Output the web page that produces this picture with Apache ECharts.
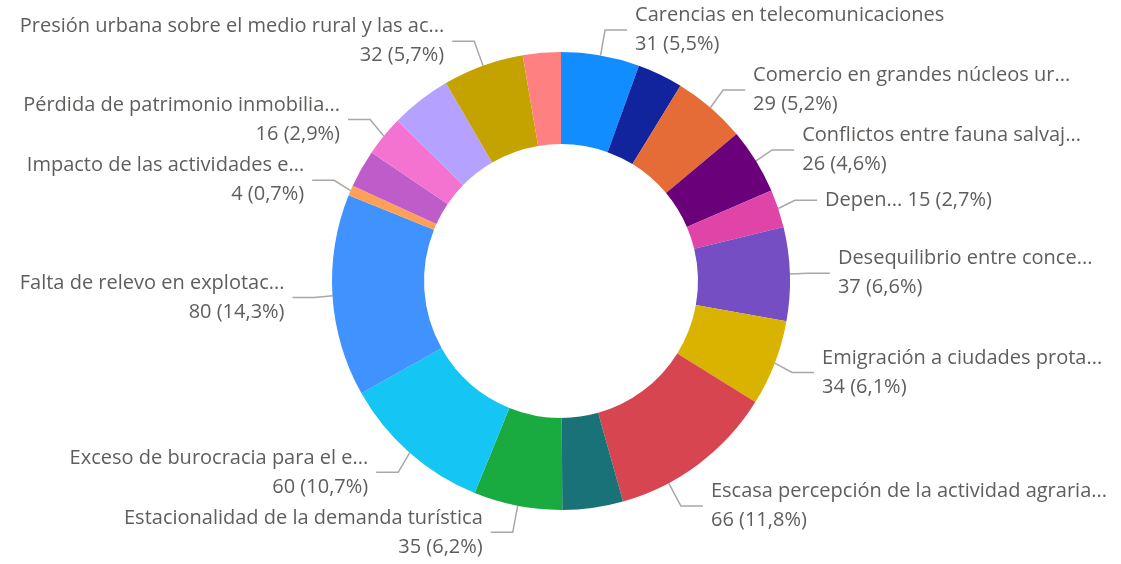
<!DOCTYPE html>
<html>
<head>
<meta charset="utf-8">
<script src="https://cdn.jsdelivr.net/npm/echarts@6/dist/echarts.min.js"></script>
<style>
html,body{margin:0;padding:0;background:#fff;}
#chart{width:1121px;height:564px;}
</style>
</head>
<body>
<div id="chart"></div>
<script>
// Slices in clockwise order starting at 12 o'clock; '' = slice whose label is not shown
const categories = [
  'Carencias en telecomunicaciones',
  '',
  'Comercio en grandes núcleos ur...',
  'Conflictos entre fauna salvaj...',
  'Depen...',
  'Desequilibrio entre conce...',
  'Emigración a ciudades prota...',
  'Escasa percepción de la actividad agraria...',
  '',
  'Estacionalidad de la demanda turística',
  'Exceso de burocracia para el e...',
  'Falta de relevo en explotac...',
  'Impacto de las actividades e...',
  '',
  'Pérdida de patrimonio inmobilia...',
  '',
  'Presión urbana sobre el medio rural y las ac...',
  ''
];
const values = [31, 18, 29, 26, 15, 37, 34, 66, 24, 35, 60, 80, 4, 15, 16, 24, 32, 15];
const colors = ['#118DFF', '#12239E', '#E66C37', '#6B007B', '#E044A7', '#744EC2', '#D9B300', '#D64550',
  '#197278', '#1AAB40', '#15C6F4', '#4092FF', '#FFA058', '#BE5DC9', '#F472D0', '#B5A1FF', '#C4A200', '#FF8080'];
const inlineLabels = ['Depen...'];

const W = 1121, CX = 561, CY = 281, R0 = 137, R1 = 229, L1 = 26, L2 = 22, GAP = 8, MARGIN = 14;

const total = values.reduce((a, b) => a + b, 0);
const cum = [0];
values.forEach((v) => cum.push(cum[cum.length - 1] + v));

const data = values.map((v, i) => {
  const item = { name: categories[i] || ('_' + i), value: v, itemStyle: { color: colors[i] } };
  if (!categories[i]) {
    item.label = { show: false };
    item.labelLine = { show: false };
  }
  return item;
});

// If a right-side label runs past the right edge, slide it along its own slice (down/up) until it fits.
function fitLabel(params) {
  const r = params.labelRect;
  if (r.x + r.width <= W - MARGIN) return {};
  const i = params.dataIndex;
  const a0 = cum[i] / total * 360, a1 = cum[i + 1] / total * 360;
  const mid = (a0 + a1) / 2;
  const elbowX = W - MARGIN - r.width - GAP - L2;
  let s = Math.max(-1, Math.min(1, (elbowX - CX) / (R1 + L1)));
  let th = Math.asin(s) * 180 / Math.PI;
  if (mid > 90) th = 180 - th;
  th = Math.max(a0 + 2, Math.min(a1 - 2, th));
  const t = th * Math.PI / 180;
  const p0 = [CX + R1 * Math.sin(t), CY - R1 * Math.cos(t)];
  const p1 = [CX + (R1 + L1) * Math.sin(t), CY - (R1 + L1) * Math.cos(t)];
  const p2 = [p1[0] + L2, p1[1]];
  return { x: p2[0] + GAP, y: p1[1], align: 'left', verticalAlign: 'middle', labelLinePoints: [p0, p1, p2] };
}

const chart = echarts.init(document.getElementById('chart'), null, { renderer: 'canvas' });
chart.setOption({
  animation: false,
  backgroundColor: '#ffffff',
  series: [{
    type: 'pie',
    center: [CX, CY],
    radius: [R0, R1],
    startAngle: 90,
    clockwise: true,
    avoidLabelOverlap: true,
    data: data,
    itemStyle: { borderWidth: 0 },
    label: {
      show: true,
      color: '#605E5C',
      fontFamily: 'Open Sans',
      fontSize: 20,
      lineHeight: 29,
      overflow: 'none',
      distanceToLabelLine: GAP,
      formatter: (p) => {
        const pct = (p.value / total * 100).toFixed(1).replace('.', ',');
        const val = p.value + ' (' + pct + '%)';
        return inlineLabels.includes(p.name) ? p.name + ' ' + val : p.name + '\n' + val;
      }
    },
    labelLine: {
      show: true,
      length: L1,
      length2: L2,
      lineStyle: { color: '#A8A8A8', width: 1.5 }
    },
    labelLayout: fitLabel,
    emphasis: { disabled: true }
  }]
});
</script>
</body>
</html>
